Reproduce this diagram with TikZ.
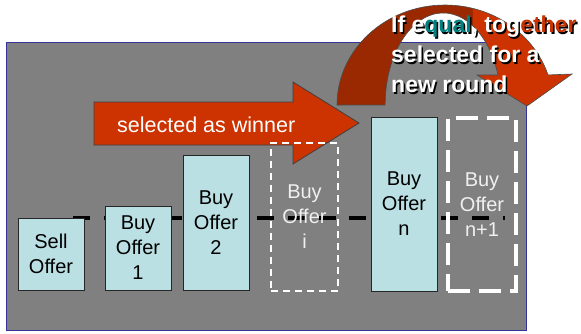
\documentclass[tikz,border=0pt]{standalone}
\usepackage{fontspec}
\setmainfont{Liberation Sans}
\definecolor{panelgray}{HTML}{808080}
\definecolor{panelborder}{HTML}{333399}
\definecolor{boxblue}{HTML}{BBE0E3}
\definecolor{arrowred}{HTML}{CC3300}
\definecolor{arrowdark}{HTML}{9A2800}
\definecolor{eqteal}{HTML}{008080}
\definecolor{etherred}{HTML}{C83200}
\newcommand{\curvedpath}{(337,105) arc[start angle=180, end angle=342.5, x radius=108, y radius=100] -- (572,74) -- (527,106) -- (477,75) -- (498,75) arc[start angle=341, end angle=180, x radius=58, y radius=92] -- cycle}
\newcommand{\eqtext}[2]{If e\textcolor{#1}{qual}, tog\textcolor{#2}{ether}\\selected for a\\new round}
\tikzset{
  offer/.style={draw=black!85, line width=1pt, fill=boxblue, minimum width=66pt, align=center, inner sep=0pt, font=\fontsize{20}{25}\selectfont},
  ghost/.style={draw=white, line width=2pt, dash pattern=on 7pt off 5pt, minimum width=67pt, align=center, inner sep=0pt, text=white!94!black, font=\fontsize{20}{25}\selectfont},
  bigghost/.style={draw=white, line width=3.5pt, dash pattern=on 22pt off 9pt, minimum width=68pt, align=center, inner sep=0pt, text=white!94!black, font=\fontsize{20}{25}\selectfont},
  levelline/.style={line width=3.5pt, black, dash pattern=on 17pt off 13.7pt},
  toptext/.style={anchor=north west, align=left, inner sep=0pt, font=\bfseries\fontsize{23}{30}\selectfont}
}
\begin{document}
\begin{tikzpicture}[x=1pt,y=-1pt]
\useasboundingbox (0,0) rectangle (581,333);
% panel
\filldraw[fill=panelgray, draw=panelborder, line width=1pt] (6,42) rectangle (526,330);
% curved arrow
\begin{scope}
  \clip (0,0) rectangle (473,333);
  \fill[arrowdark] \curvedpath;
\end{scope}
\begin{scope}
  \clip (473,0) rectangle (581,333);
  \fill[arrowred] \curvedpath;
\end{scope}
\draw[black!70, line width=0.6pt] \curvedpath;
% level line
\coordinate (ls) at (73,218);
\coordinate (le) at (505,218);
\draw[levelline] (ls) -- (le);
% boxes
\node[offer, minimum height=72pt] (sell) at (51,254) {Sell\\Offer};
\node[offer, minimum height=84pt] (b1) at (138,248) {Buy\\Offer\\1};
\node[offer, minimum height=135pt] (b2) at (216,222.5) {Buy\\Offer\\2};
\node[offer, minimum height=174pt] (bn) at (404,204) {Buy\\Offer\\n};
\node[bigghost, minimum height=173pt] (bn1) at (482,204.5) {Buy\\Offer\\n+1};
% straight arrow
\filldraw[fill=arrowred, draw=black!75, line width=0.8pt] (94,102) -- (293,102) -- (293,82) -- (359,123) -- (293,164) -- (293,145) -- (94,145) -- cycle;
\node[anchor=base west, inner sep=0pt, text=white, font=\fontsize{21.5}{25}\selectfont] (win) at (117,132) {selected as winner};
% ghost box i
\node[ghost, minimum height=148pt] (bi) at (304.5,217) {Buy\\Offer\\i};
% top text with shadow
\node[toptext, text=black] (shadow) at (392.5,17.5) {\eqtext{black}{black}};
\node[toptext, text=white] (note) at (391,16) {\eqtext{eqteal}{etherred}};
\end{tikzpicture}
\end{document}
